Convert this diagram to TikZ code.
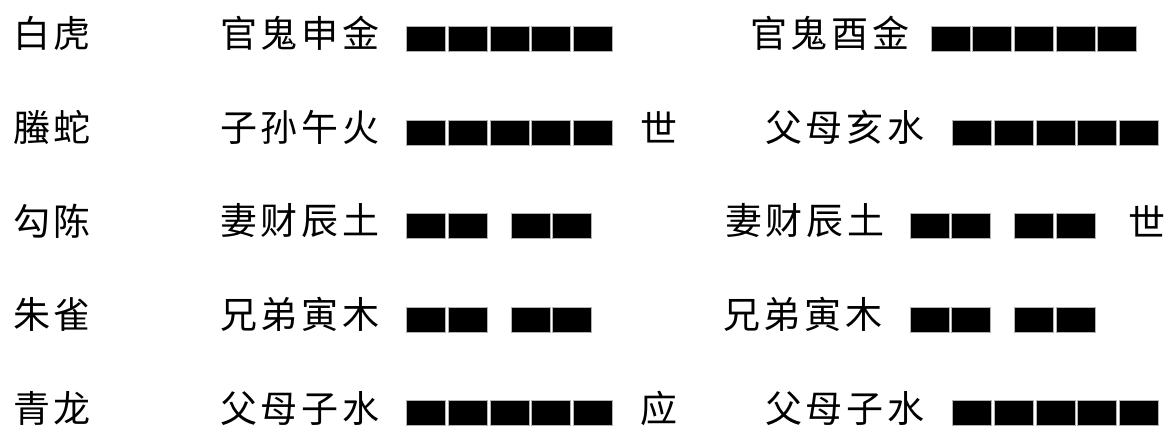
\documentclass[tikz,border=0pt]{standalone}
\usepackage{fontspec}
\newfontfamily\cjk{Noto Sans CJK SC}[LetterSpace=10]
\usetikzlibrary{positioning}

% one yang line: five blocks from x=#1 at centre height #2
\newcommand{\yangline}[2]{%
  \foreach \k in {0,...,4}
    \draw[seg] ({#1+\k*41.7},{#2-12.5}) rectangle ++(39,25);}
% one yin line: two blocks, a gap, two blocks
\newcommand{\yinline}[2]{%
  \foreach \k in {0,1,2.5,3.5}
    \draw[seg] ({#1+\k*41.7},{#2-12.5}) rectangle ++(39,25);}

\begin{document}
\begin{tikzpicture}[x=1pt, y=-1pt,
    txt/.style={anchor=west, inner sep=0pt, font=\cjk\fontsize{37}{37}\selectfont},
    seg/.style={fill=black, draw=gray!60, line width=0.7pt}
]
\useasboundingbox (0,0) rectangle (1170,435);

% six spirits
\node[txt] (god1) at (13,33) {白虎};
\node[txt] (god2) at (13,127) {螣蛇};
\node[txt] (god3) at (13,221) {勾陈};
\node[txt] (god4) at (13,314.5) {朱雀};
\node[txt] (god5) at (13,408.5) {青龙};

% main hexagram
\node[txt] (main1) at (220,33) {官鬼申金};
\node[txt] (main2) at (220,127) {子孙午火};
\node[txt] (main3) at (220,221) {妻财辰土};
\node[txt] (main4) at (220,314.5) {兄弟寅木};
\node[txt] (main5) at (220,408.5) {父母子水};

\yangline{406.7}{38.5}
\yangline{406.7}{133}
\yinline{406.7}{226}
\yinline{406.7}{319.5}
\yangline{406.7}{413}

\node[txt] (shi1) at (640,127) {世};
\node[txt] (ying1) at (640,408.5) {应};

% changed hexagram
\node[txt] (chg1) at (750,33) {官鬼酉金};
\node[txt] (chg2) at (765,127) {父母亥水};
\node[txt] (chg3) at (725,221) {妻财辰土};
\node[txt] (chg4) at (723,314.5) {兄弟寅木};
\node[txt] (chg5) at (765,408.5) {父母子水};

\yangline{931}{38.5}
\yangline{952.7}{133}
\yinline{910}{226}
\yinline{910}{319.5}
\yangline{952.7}{413}

\node[txt] (shi2) at (1128,221) {世};

\end{tikzpicture}
\end{document}
